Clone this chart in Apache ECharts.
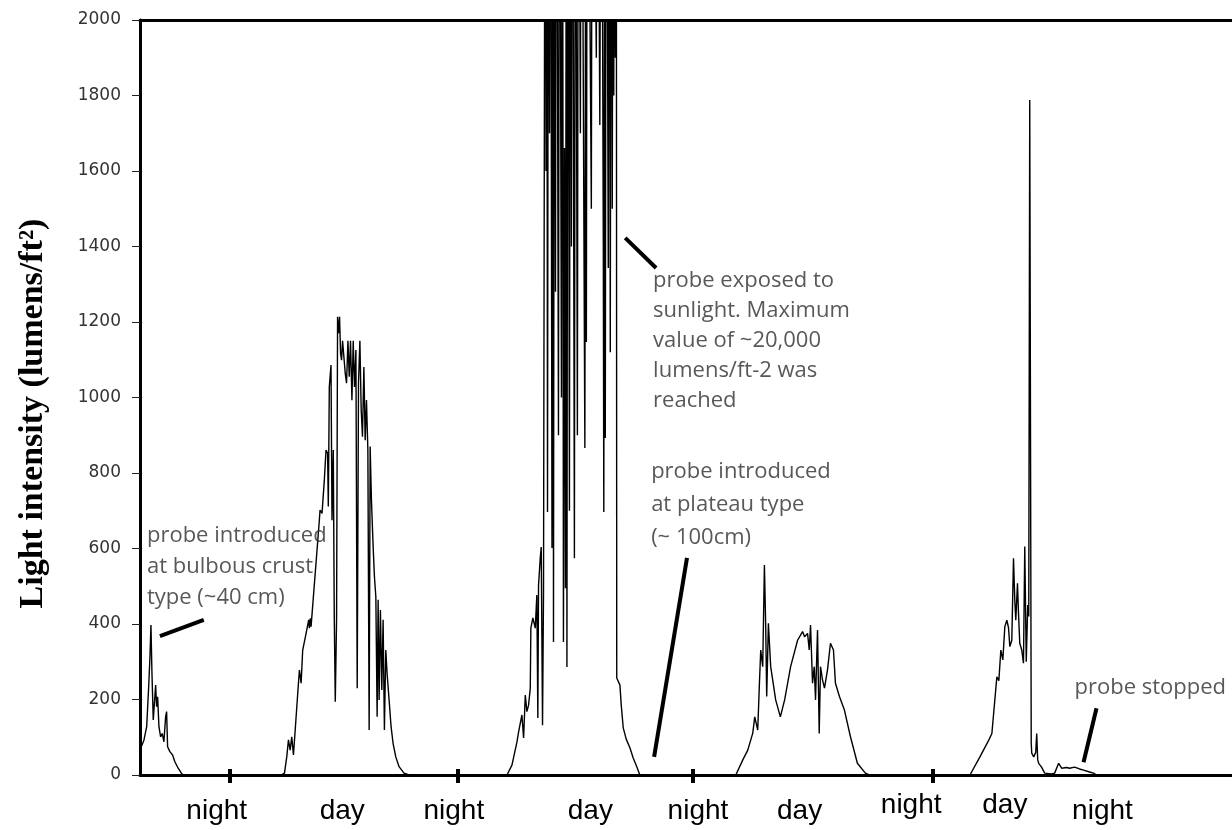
<!DOCTYPE html>
<html>
<head>
<meta charset="utf-8">
<script src="https://cdn.jsdelivr.net/npm/echarts@6/dist/echarts.min.js"></script>
<style>
html,body{margin:0;padding:0;background:#fff;}
#chart{width:1232px;height:830px;}
</style>
</head>
<body>
<div id="chart"></div>
<script>
// x = reading index (about one reading every 6 minutes), y = light intensity (lumens/ft^2)
// values above 2000 are off the scale (sunlight reached ~20,000)
const seg1 = [[0,66],[4,93],[6.7,128],[8.7,234],[10,313],[11,397],[12,270],[13.3,146],[14.7,199],[15.7,238],[16.7,181],[17.7,207],[19,128],[20.7,101],[22.3,110],[24,88],[25.7,154],[26.7,168],[27.7,75],[30,62],[32.7,53],[35,35],[38.3,18],[41.7,4],[44,0]];
const seg2 = [[141.7,0],[145,5],[147.3,48],[149,93],[150.7,66],[152.3,101],[154,53],[156,128],[158.3,216],[160,278],[161.7,243],[163.3,331],[166.7,375],[169.3,411],[170,389],[171,415],[171.7,393],[180,675],[180.7,702],[182.7,693],[185,781],[186.7,861],[188.3,852],[189,711],[190,1028],[191.7,1086],[192.7,675],[194,861],[195,415],[196,194],[197.3,415],[198.3,1214],[199.3,1170],[200.3,1214],[201.3,1117],[202.3,1099],[203.3,1150],[205,1150],[206,1064],[207.3,1038],[208.7,1150],[210,1055],[211.3,1150],[212.7,993],[214,1150],[215.3,1028],[216.7,1126],[218,230],[219.3,1038],[220.7,1150],[222,967],[223.3,896],[224.7,1081],[226,887],[227.3,993],[228.7,861],[230,119],[231,870],[232.3,728],[234,605],[235.3,525],[236.7,472],[238,154],[239,464],[240,199],[241.3,437],[242.7,225],[244,411],[245.3,119],[246.7,331],[248,269],[250,199],[252,128],[254,84],[256.7,48],[260,22],[265,5],[270,0]];
const seg3 = [[368.3,0],[373.3,26],[378.3,87],[380,114],[383.3,159],[385,98],[386.7,212],[388.3,168],[390,185],[391.7,230],[392.3,389],[394.3,416],[396.7,389],[398.3,477],[399.3,151],[400,503],[401.7,574],[402.7,604],[404,132],[405,485],[406.7,3000],[407.5,1600],[408.2,3000],[409,697],[410,3000],[411,1700],[412,3000],[413.5,601],[414.5,3000],[415,352],[416,3000],[417,1280],[418,3000],[420,900],[421,3000],[423,1000],[424,3000],[425,352],[426,1661],[427,495],[428,3000],[428.5,286],[429.5,3000],[431,700],[432,3000],[433,1400],[434,3000],[436,574],[437,3000],[439,900],[440,3000],[442,1700],[443,3000],[446.5,866],[447.5,3000],[448,1147],[449,3000],[453,1500],[454,3000],[458,1900],[459,3000],[461.5,1722],[463,3000],[465,1404],[465.5,697],[466.5,3000],[467,893],[468,3000],[470,1343],[471,3000],[472,1120],[473,3000],[474,1500],[475,3000],[475.5,1800],[476,3000],[477,1900],[478,3000],[478.5,257],[481.7,238],[483,185],[485,125],[488,95],[491.7,72],[495,45],[498,26],[501.7,0]];
const seg4 = [[598,0],[605,40],[610,66],[615,111],[617,154],[620,119],[621.7,243],[623,331],[625,287],[626.7,556],[628,393],[629,208],[630.7,402],[633,287],[638,199],[642.7,154],[647,199],[653,287],[660,357],[665,380],[667,366],[670,375],[671.7,331],[673,397],[675,243],[676.7,287],[678,199],[680,384],[681.7,110],[683,287],[685,252],[687,230],[690,278],[693,349],[696,331],[698,243],[702,208],[707,172],[713,102],[720,31],[728,5],[732,0]];
const seg5 = [[833,0],[843,48],[852,93],[855,110],[860,260],[862,250],[864,331],[866,305],[868,393],[870,410],[871.7,390],[873,340],[875,357],[876.7,574],[878,463],[879,410],[880.7,508],[881.7,430],[883,349],[885,331],[886.7,296],[888,605],[889.5,300],[891,450],[892,420],[893,1788],[894.5,85],[895,58],[897,48],[899,60],[900,110],[901,40],[902,31],[905,20],[908,5],[915,3],[918,5],[922,31],[925,18],[930,20],[933,18],[938,21],[943,16],[947,13],[953,8],[957,5],[960,0]];

const xMin = 0, xMax = 1096;
const yMin = 0, yMax = 2000, yStep = 200;
const tickPos = [90, 319, 555, 796];
const periodNames = ['night','day','night','day','night','day','night','day','night'];
const periodPos   = [77, 203, 315, 452, 560, 662, 774, 868, 966];
const periodRaised = [false,false,false,false,false,false,true,true,false];

const notes = [
  {x: 7,   y: 674,  lh: 31, text: 'probe introduced\nat bulbous crust\ntype (~40 cm)'},
  {x: 515, y: 1348, lh: 30, text: 'probe exposed to\nsunlight. Maximum\nvalue of ~20,000\nlumens/ft-2 was\nreached'},
  {x: 513, y: 846,  lh: 33, text: 'probe introduced\nat plateau type\n(~ 100cm)'},
  {x: 938, y: 270,  lh: 30, text: 'probe stopped'}
];
const pointers = [
  [[20,368],[64,411]],
  [[487,1423],[518,1343]],
  [[549,575],[516,48]],
  [[960,177],[947,34]]
];

const series1 = [].concat(seg1, seg2, seg3, seg4, seg5);

const normalPos = periodPos.filter((p,i)=>!periodRaised[i]);
const raisedPos = periodPos.filter((p,i)=>periodRaised[i]);
const nameAt = v => { const i = periodPos.indexOf(v); return i >= 0 ? periodNames[i] : ''; };

const chart = echarts.init(document.getElementById('chart'), null, {renderer:'canvas'});
const labelFont = {fontFamily:'Liberation Sans, Arial, sans-serif', fontSize:28, color:'#000'};
chart.setOption({
  animation:false,
  backgroundColor:'#fff',
  grid:{left:140, right:-4, top:20, bottom:55, containLabel:false},
  xAxis:[
    {type:'value', min:xMin, max:xMax, position:'bottom',
     axisLine:{show:true, onZero:false, lineStyle:{color:'#000', width:3}},
     axisTick:{show:true, customValues:tickPos, length:8, lineStyle:{color:'#000', width:4}},
     axisLabel:Object.assign({show:true, customValues:normalPos, formatter:nameAt, margin:22}, labelFont),
     splitLine:{show:false}},
    {type:'value', min:xMin, max:xMax, position:'bottom',
     axisLine:{show:false},
     axisTick:{show:true, inside:true, customValues:tickPos, length:6, lineStyle:{color:'#000', width:4}},
     axisLabel:Object.assign({show:true, customValues:raisedPos, formatter:nameAt, margin:16}, labelFont),
     splitLine:{show:false}},
    {type:'value', min:xMin, max:xMax, position:'top',
     axisLine:{show:true, onZero:false, lineStyle:{color:'#000', width:3}},
     axisTick:{show:false}, axisLabel:{show:false}, splitLine:{show:false}}
  ],
  yAxis:{type:'value', min:yMin, max:yMax, interval:yStep,
     name:'Light intensity (lumens/ft²)', nameLocation:'middle', nameGap:90,
     nameTextStyle:{fontFamily:'Liberation Serif, Times New Roman, serif', fontWeight:'bold', fontSize:34, color:'#000', padding:[0,32,0,0]},
     axisLine:{show:true, lineStyle:{color:'#000', width:3}},
     axisTick:{show:true, length:8, lineStyle:{color:'#222', width:1}},
     axisLabel:{fontFamily:'DejaVu Sans, Verdana, sans-serif', fontSize:17, color:'#333', margin:19, formatter:v=>String(v)},
     splitLine:{show:false}},
  series:[
    {type:'line', name:'Light intensity', data:series1, showSymbol:false, symbol:'none',
     lineStyle:{color:'#000', width:1.4}, clip:true, z:3},
    {type:'scatter', name:'notes', symbolSize:0, silent:true, z:5,
     data:notes.map(n=>({value:[n.x,n.y], label:{lineHeight:n.lh}, name:n.text})),
     label:{show:true, position:[0,0], align:'left', verticalAlign:'top',
            formatter:p=>p.name, fontFamily:'Open Sans, sans-serif', fontSize:22, color:'#2e2e2e'},
     markLine:{silent:true, symbol:['none','none'], label:{show:false},
       lineStyle:{color:'#000', width:4, type:'solid'},
       data:pointers.map(p=>[{coord:p[0]},{coord:p[1]}])}}
  ]
});
</script>
</body>
</html>
